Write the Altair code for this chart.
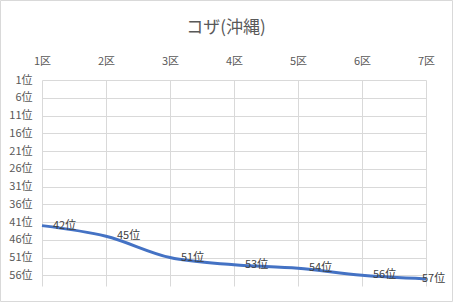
import altair as alt
import pandas as pd

sections = [1, 2, 3, 4, 5, 6, 7]
ranks = [42, 45, 51, 53, 54, 56, 57]
rank_ticks = [1, 6, 11, 16, 21, 26, 31, 36, 41, 46, 51, 56]

df = pd.DataFrame({"section": sections, "rank": ranks})
df["label"] = df["rank"].astype(str) + "位"
df["idx"] = range(len(df))
last = len(df) - 1

FONT = "Noto Sans CJK JP"
GRID = "#d9d9d9"

x = alt.X("section:Q", scale=alt.Scale(domain=[1, 7], nice=False, zero=False),
          axis=alt.Axis(orient="top", values=sections, labelExpr="datum.value + '区'",
                        domain=False, ticks=False, grid=True, gridColor=GRID,
                        labelPadding=14, labelFontSize=11, labelColor="#595959",
                        labelFont=FONT, title=None, labelFlush=False, labelOverlap=False))
y = alt.Y("rank:Q", scale=alt.Scale(domain=[1, 59], reverse=True, nice=False, zero=False),
          axis=alt.Axis(values=rank_ticks, labelExpr="datum.value + '位'",
                        domain=False, ticks=False, grid=True, gridColor=GRID,
                        labelPadding=10, labelFontSize=11, labelColor="#595959",
                        labelFont=FONT, title=None, labelFlush=False, labelOverlap=False))

base = alt.Chart(df)
line = base.mark_line(color="#4472C4", strokeWidth=3, interpolate="catmull-rom").encode(x=x, y=y)
labels = base.transform_filter(f"datum.idx < {last}").mark_text(
    align="left", baseline="middle", dx=11, fontSize=11, font=FONT, color="#404040"
).encode(x=x, y=y, text="label:N")
last_label = base.transform_filter(f"datum.idx == {last}").mark_text(
    align="left", baseline="middle", dx=-4, fontSize=11, font=FONT, color="#404040"
).encode(x=x, y=y, text="label:N")

border = alt.Chart(pd.DataFrame({"a": [0]})).mark_rect(
    fill=None, stroke=GRID, strokeWidth=1
).encode(x=alt.value(-41.5), x2=alt.value(410.5), y=alt.value(-79.5), y2=alt.value(221.5))

title_mark = alt.Chart(pd.DataFrame({"t": ["コザ(沖縄)"]})).mark_text(
    fontSize=17, font=FONT, color="#595959", align="center", baseline="middle"
).encode(x=alt.value(184), y=alt.value(-52), text="t:N")

chart = alt.layer(border, line, labels, last_label, title_mark).properties(
    width=384, height=206,
    autosize=alt.AutoSizeParams(type="none"),
    padding={"left": 42, "top": 80, "right": 27, "bottom": 16},
    background="white",
).configure_view(stroke=None)

chart.save("out.html", embed_options={"renderer": "svg", "actions": False})
